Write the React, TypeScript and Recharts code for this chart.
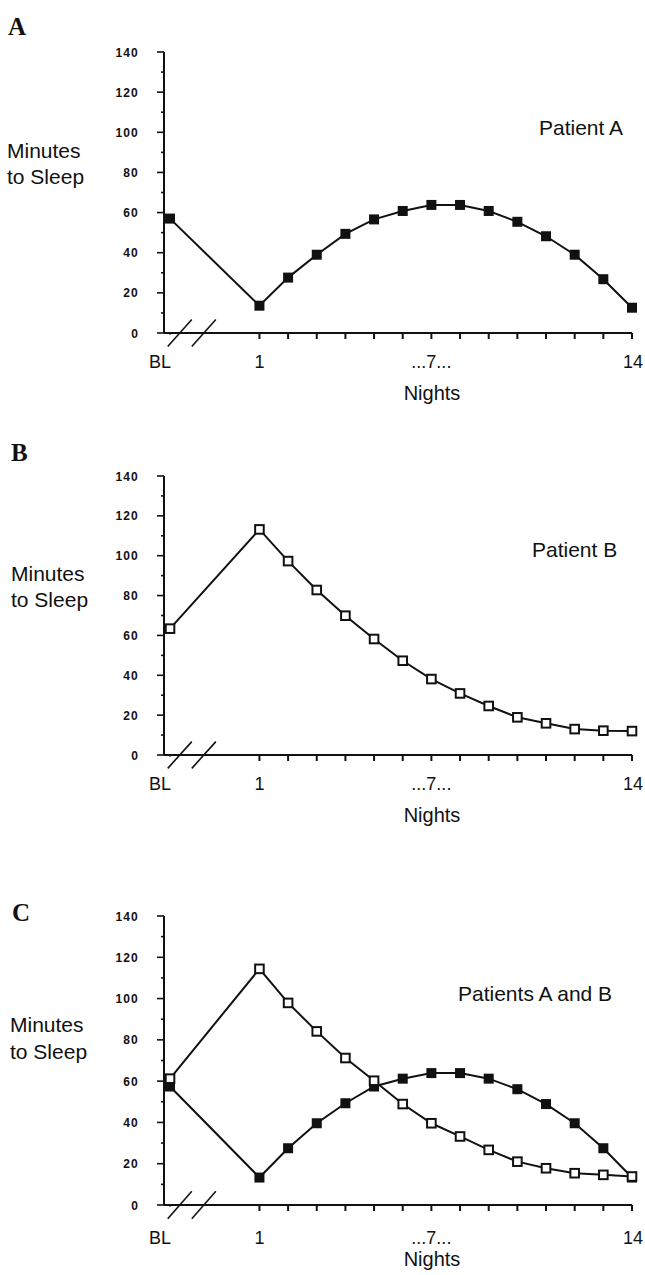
import { LineChart, Line, XAxis, YAxis, ReferenceLine } from 'recharts';

// nights on the x axis; BL sits just right of the y axis, before the break
const CATEGORIES = ['BL', '1', '2', '3', '4', '5', '6', '7', '8', '9', '10', '11', '12', '13', '14'];
const Y_TICKS = [0, 10, 20, 30, 40, 50, 60, 70, 80, 90, 100, 110, 120, 130, 140];
const X_LABELS: Record<string, string> = { BL: 'BL', '1': '1', '7': '...7...', '14': '14' };

// minutes to sleep
const patientA = [57, 13.6, 27.6, 39, 49.4, 56.6, 60.8, 63.8, 63.8, 60.8, 55.4, 48.2, 39, 26.8, 12.6];
const patientB = [63.4, 113.2, 97.3, 82.8, 69.9, 58.2, 47.3, 38.1, 30.9, 24.6, 18.9, 15.9, 13, 12.2, 12];
const combinedA = [57.4, 13.3, 27.5, 39.6, 49.3, 57.4, 61.2, 63.9, 63.9, 61.2, 56.1, 48.9, 39.6, 27.5, 13.3];
const combinedB = [61.2, 114.4, 97.9, 84.1, 71.2, 60.2, 48.9, 39.6, 33.2, 26.7, 21, 17.8, 15.4, 14.6, 13.8];

const BL_POS = -2.12;
const X_MIN = -2.33;
const BREAKS = [-1.78, -0.94];
const INK = '#111';
const TICK = 6;
const SANS = '"Liberation Sans", Arial, Helvetica, sans-serif';
const SERIF = '"Liberation Serif", "Times New Roman", serif';

const toX = (c: string) => (c === 'BL' ? BL_POS : Number(c));

function YTick({ x, y, payload }: any) {
  const v = payload.value;
  const major = v % 20 === 0;
  return (
    <g>
      <line x1={x - (major ? 7 : 3)} x2={x} y1={y} y2={y} stroke={INK} strokeWidth={1.6} />
      {major && (
        <text x={x - 25} y={y + 4.5} textAnchor="end" fontFamily={SANS} fontWeight="bold" fontSize={12} letterSpacing={1.2} fill={INK}>
          {v}
        </text>
      )}
    </g>
  );
}

// y here is the end of the library's tick line (axis + TICK)
function makeXTick(dy: number) {
  return ({ x, y, payload }: any) => {
    const v = payload.value;
    const key = v === BL_POS ? 'BL' : String(v);
    const text = X_LABELS[key];
    return (
      <g>
        {key === 'BL' && <rect x={x - 2} y={y - TICK + 1.5} width={4} height={TICK} fill="#fff" />}
        {text && (
          <text x={key === 'BL' ? x - 10 : key === '14' ? x + 1 : x} y={y - TICK + dy} textAnchor="middle" fontFamily={SANS} fontSize={18} fill={INK}>
            {text}
          </text>
        )}
      </g>
    );
  };
}

function square(filled: boolean, name: string) {
  return (p: any) => {
    if (p.cx == null || p.cy == null) return <g key={`${name}-${p.index}`} />;
    return filled ? (
      <rect key={`${name}-${p.index}`} x={p.cx - 5} y={p.cy - 5} width={10} height={10} fill={INK} />
    ) : (
      <rect key={`${name}-${p.index}`} x={p.cx - 4.3} y={p.cy - 4.3} width={8.6} height={8.6} fill="#fff" stroke={INK} strokeWidth={2} />
    );
  };
}

interface PanelProps {
  plotTop: number;
  plotH: number;
  a?: number[];
  b?: number[];
  labelDy: number;
}

function Panel({ plotTop, plotH, a, b, labelDy }: PanelProps) {
  const data = CATEGORIES.map((c, i) => ({ x: toX(c), a: a ? a[i] : undefined, b: b ? b[i] : undefined }));
  const top = 10;
  return (
    <div style={{ position: 'absolute', left: 0, top: plotTop - top }}>
      <LineChart width={645} height={top + plotH + 60} data={data} margin={{ top, right: 13, bottom: 0, left: 0 }}>
        <XAxis
          type="number"
          dataKey="x"
          domain={[X_MIN, 14]}
          ticks={[BL_POS, ...CATEGORIES.slice(1).map(Number)]}
          axisLine={{ stroke: INK, strokeWidth: 2.2 }}
          tickLine={{ stroke: INK, strokeWidth: 2 }}
          tickSize={TICK}
          tickMargin={0}
          height={60}
          interval={0}
          tick={makeXTick(labelDy)}
        />
        <YAxis
          type="number"
          domain={[0, 140]}
          ticks={Y_TICKS}
          width={164}
          interval={0}
          axisLine={{ stroke: INK, strokeWidth: 2 }}
          tickLine={false}
          tickSize={0}
          tickMargin={0}
          tick={<YTick />}
        />
        {BREAKS.map((bx) => (
          <ReferenceLine
            key={`break-${bx}`}
            segment={[{ x: bx - 0.42, y: -6.7 }, { x: bx + 0.42, y: 6.7 }]}
            stroke={INK}
            strokeWidth={1.6}
            ifOverflow="visible"
          />
        ))}
        {a && (
          <Line type="linear" dataKey="a" stroke={INK} strokeWidth={2} dot={square(true, 'a')} activeDot={false} isAnimationActive={false} />
        )}
        {b && (
          <Line type="linear" dataKey="b" stroke={INK} strokeWidth={2} dot={square(false, 'b')} activeDot={false} isAnimationActive={false} />
        )}
      </LineChart>
    </div>
  );
}

const textStyle = { fontFamily: SANS, fill: INK };

export default function App() {
  return (
    <div style={{ position: 'relative', width: 645, height: 1275, background: '#fff', overflow: 'hidden' }}>
      <style>{'html, body { margin: 0; padding: 0; overflow: hidden; background: #fff; }'}</style>
      <Panel plotTop={52} plotH={281} a={patientA} labelDy={35} />
      <Panel plotTop={476} plotH={279} b={patientB} labelDy={35} />
      <Panel plotTop={916} plotH={289} a={combinedA} b={combinedB} labelDy={39} />
      <svg width={645} height={1275} style={{ position: 'absolute', left: 0, top: 0, pointerEvents: 'none' }}>
        <text x={8} y={35} fontFamily={SERIF} fontWeight="bold" fontSize={25} fill={INK}>A</text>
        <text x={11} y={461} fontFamily={SERIF} fontWeight="bold" fontSize={25} fill={INK}>B</text>
        <text x={12} y={921} fontFamily={SERIF} fontWeight="bold" fontSize={25} fill={INK}>C</text>

        <text x={7} y={158} fontSize={21} {...textStyle}>Minutes</text>
        <text x={7} y={184} fontSize={21} {...textStyle}>to Sleep</text>
        <text x={11} y={581} fontSize={21} {...textStyle}>Minutes</text>
        <text x={11} y={607} fontSize={21} {...textStyle}>to Sleep</text>
        <text x={10} y={1032} fontSize={21} {...textStyle}>Minutes</text>
        <text x={10} y={1059} fontSize={21} {...textStyle}>to Sleep</text>

        <text x={539} y={135} fontSize={21} {...textStyle}>Patient A</text>
        <text x={532} y={557} fontSize={21} {...textStyle}>Patient B</text>
        <text x={458} y={1001} fontSize={21} {...textStyle}>Patients A and B</text>

        <text x={432} y={400} fontSize={20} textAnchor="middle" {...textStyle}>Nights</text>
        <text x={432} y={822} fontSize={20} textAnchor="middle" {...textStyle}>Nights</text>
        <text x={432} y={1266} fontSize={20} textAnchor="middle" {...textStyle}>Nights</text>
      </svg>
    </div>
  );
}
